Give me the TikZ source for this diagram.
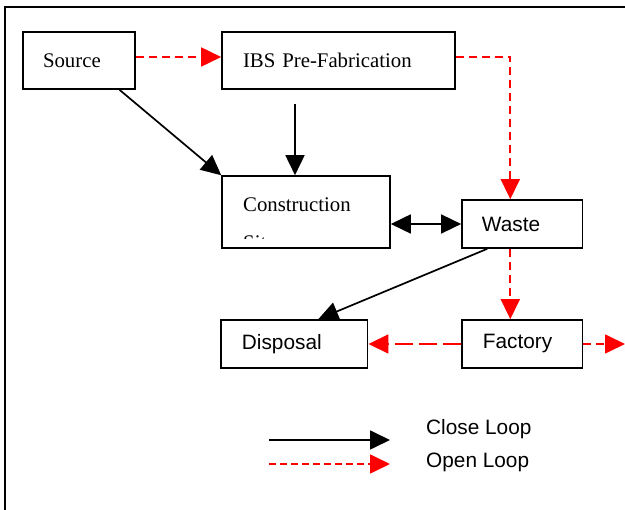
\documentclass[tikz,border=0pt]{standalone}
\usepackage{fontspec}
\setmainfont{Liberation Serif}
\setsansfont{Liberation Sans}
\usetikzlibrary{arrows.meta}
\begin{document}
\begin{tikzpicture}[x=1pt,y=-1pt,
  box/.style={draw,line width=1.6pt,inner ysep=0pt,align=left,inner xsep=20pt},
  serif/.style={font=\fontsize{20.8}{24}\selectfont},
  sans/.style={font=\sffamily\fontsize{20.8}{24}\selectfont},
  closeln/.style={line width=1.7pt,-{Triangle[length=20pt,width=19pt]}},
  openln/.style={red,line width=1.7pt,dash pattern=on 8pt off 5pt,-{Triangle[length=20pt,width=19pt]}},
]
\useasboundingbox (0,0) rectangle (625,510);
\draw[line width=1.8pt] (5,515) -- (5,7) -- (630,7);

\node[box,serif,minimum height=57pt,text width=72pt] (src) at (79,60.5) {Source};
\node[box,serif,minimum height=57pt,text width=191pt,inner xsep=21pt] (ibs) at (338.5,60.5) {IBS Pre-Fabrication};
\node[draw,line width=1.6pt,minimum width=168pt,minimum height=72pt,inner sep=0pt] (cons) at (306,212) {};
\node[serif,anchor=base west,inner sep=0pt] (constxt) at (243,211.5) {Construction};
\begin{scope}
  \clip (222,176) rectangle (390,239);
  \node[serif,anchor=base west,inner sep=0pt] (sitetxt) at (243,250) {Site};
\end{scope}
\node[box,sans,minimum height=48pt,text width=80.7pt] (waste) at (522.3,224) {Waste};
\node[box,sans,minimum height=48pt,text width=104.7pt,inner xsep=21pt] (disp) at (294.3,344) {Disposal};
\node[box,sans,minimum height=48pt,text width=78.7pt,inner xsep=21pt] (fact) at (522.3,344) {Factory};

\draw[openln] ([yshift=3.5pt]src.east) -- ([yshift=3.5pt]ibs.west);
\draw[openln] ([yshift=3.5pt]ibs.east) -| ([xshift=-12pt]waste.north);
\coordinate (ibsdown) at (295,104);
\draw[closeln] (ibsdown) -- ([xshift=-11pt]cons.north);
\draw[closeln] ([xshift=40.5pt]src.south) -- (cons.north west);
\draw[line width=1.7pt,{Triangle[length=20pt,width=19pt]}-{Triangle[length=20pt,width=19pt]}] (cons.east |- waste.west) -- (waste.west);
\draw[closeln] ([xshift=-35pt]waste.south) -- ([xshift=24pt]disp.north);
\draw[openln] ([xshift=-12pt]waste.south) -- ([xshift=-12pt]fact.north);
\draw[openln,dash pattern=on 18pt off 6pt] (fact.west) -- (disp.east);
\coordinate (out) at (625,344);
\draw[openln] (fact.east) -- (out);

\coordinate (l1a) at (269,440);
\coordinate (l1b) at (390,440);
\coordinate (l2a) at (269,464);
\coordinate (l2b) at (390,464);
\draw[closeln] (l1a) -- (l1b);
\draw[openln,dash pattern=on 7pt off 4pt] (l2a) -- (l2b);
\node[sans,anchor=base west,inner sep=0pt] (lg1) at (426,435) {Close Loop};
\node[sans,anchor=base west,inner sep=0pt] (lg2) at (426,467.5) {Open Loop};
\end{tikzpicture}
\end{document}
